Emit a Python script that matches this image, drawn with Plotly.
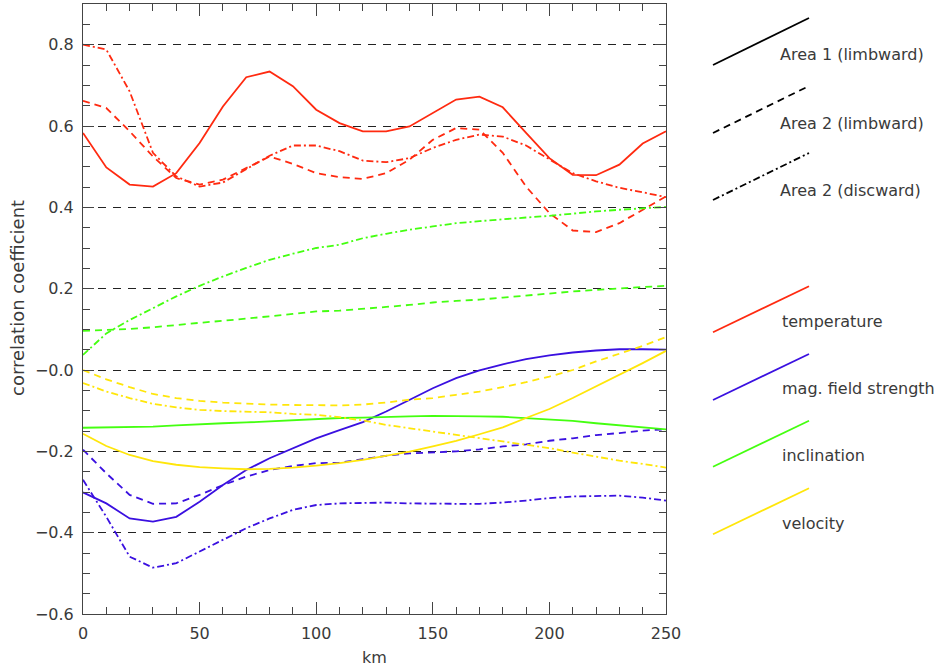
import plotly.graph_objects as go

# ---------------- data ----------------
km = list(range(0, 251, 10))

temp_a1 = [0.583, 0.498, 0.456, 0.451, 0.484, 0.558, 0.648, 0.720, 0.734, 0.698, 0.640, 0.607, 0.587,
           0.587, 0.599, 0.632, 0.665, 0.672, 0.646, 0.583, 0.521, 0.480, 0.479, 0.505, 0.557, 0.587]
temp_a2l = [0.662, 0.644, 0.587, 0.525, 0.472, 0.456, 0.468, 0.497, 0.525, 0.507, 0.484, 0.474, 0.470,
            0.484, 0.517, 0.566, 0.595, 0.591, 0.534, 0.451, 0.386, 0.343, 0.339, 0.361, 0.394, 0.427]
temp_a2d = [0.800, 0.788, 0.685, 0.534, 0.476, 0.451, 0.461, 0.493, 0.527, 0.552, 0.552, 0.538, 0.515,
            0.511, 0.521, 0.546, 0.566, 0.579, 0.574, 0.552, 0.517, 0.484, 0.464, 0.448, 0.437, 0.425]

mag_a1 = [-0.301, -0.328, -0.365, -0.373, -0.361, -0.324, -0.283, -0.246, -0.217, -0.192, -0.168, -0.148, -0.128,
          -0.102, -0.073, -0.045, -0.020, -0.001, 0.014, 0.027, 0.036, 0.043, 0.048, 0.051, 0.051, 0.050]
mag_a2l = [-0.196, -0.254, -0.307, -0.329, -0.328, -0.307, -0.283, -0.262, -0.246, -0.236, -0.229, -0.228, -0.219,
           -0.211, -0.205, -0.203, -0.200, -0.195, -0.188, -0.183, -0.174, -0.168, -0.160, -0.155, -0.149, -0.146]
mag_a2d = [-0.270, -0.361, -0.459, -0.486, -0.475, -0.447, -0.418, -0.389, -0.365, -0.344, -0.332, -0.328, -0.327,
           -0.326, -0.328, -0.329, -0.329, -0.329, -0.326, -0.321, -0.315, -0.311, -0.310, -0.309, -0.314, -0.321]

incl_a1 = [-0.142, -0.141, -0.140, -0.139, -0.136, -0.133, -0.131, -0.129, -0.126, -0.124, -0.121, -0.118, -0.117,
           -0.115, -0.114, -0.113, -0.113, -0.114, -0.115, -0.118, -0.121, -0.125, -0.131, -0.136, -0.141, -0.146]
incl_a2l = [0.096, 0.098, 0.101, 0.105, 0.111, 0.116, 0.121, 0.126, 0.132, 0.138, 0.144, 0.146, 0.150,
            0.155, 0.160, 0.166, 0.170, 0.173, 0.178, 0.183, 0.189, 0.193, 0.197, 0.201, 0.204, 0.207]
incl_a2d = [0.037, 0.090, 0.123, 0.152, 0.181, 0.207, 0.230, 0.251, 0.271, 0.286, 0.300, 0.308, 0.324,
            0.335, 0.345, 0.353, 0.361, 0.366, 0.371, 0.375, 0.379, 0.385, 0.390, 0.394, 0.398, 0.401]

vel_a1 = [-0.157, -0.187, -0.209, -0.224, -0.233, -0.239, -0.242, -0.244, -0.243, -0.240, -0.235, -0.229, -0.221,
          -0.211, -0.201, -0.188, -0.174, -0.158, -0.141, -0.118, -0.096, -0.069, -0.041, -0.012, 0.017, 0.047]
vel_a2l = [0.000, -0.023, -0.042, -0.059, -0.069, -0.076, -0.080, -0.083, -0.085, -0.086, -0.087, -0.087, -0.085,
           -0.080, -0.073, -0.069, -0.061, -0.053, -0.042, -0.030, -0.016, 0.000, 0.021, 0.040, 0.059, 0.081]
vel_a2d = [-0.032, -0.053, -0.069, -0.083, -0.092, -0.098, -0.101, -0.102, -0.104, -0.108, -0.110, -0.116, -0.124,
           -0.135, -0.143, -0.151, -0.160, -0.168, -0.176, -0.184, -0.192, -0.203, -0.213, -0.223, -0.231, -0.240]

y_tickvals = [0.8, 0.6, 0.4, 0.2, 0.0, -0.2, -0.4, -0.6]
y_ticktext = ["0.8", "0.6", "0.4", "0.2", "\u22120.0", "\u22120.2", "\u22120.4", "\u22120.6"]
x_tickvals = [0, 50, 100, 150, 200, 250]

area_labels = ["Area 1 (limbward)", "Area 2 (limbward)", "Area 2 (discward)"]
quantity_labels = ["temperature", "mag. field strength", "inclination", "velocity"]

# ---------------- styles ----------------
RED, BLUE, GREEN, YELLOW = "#ff2a10", "#3a10e0", "#44ff10", "#ffe60a"
DASH = "7px,5px"
DASHDOT = "7px,3px,2px,3px"
styles = ["solid", DASH, DASHDOT]
TXT = "#3a3a3a"
FONT = "DejaVu Sans"

W, H = 948, 668
ML, MR, MT, MB = 83, 282, 4, 54          # plot box margins (pixels)
PW, PH = W - ML - MR, H - MT - MB


def PX(x):
    # figure pixel -> paper fraction (paper = plot area)
    return (x - ML) / PW


def PY(y):
    return (H - MB - y) / PH


series = [
    (temp_a1, RED, 0), (temp_a2l, RED, 1), (temp_a2d, RED, 2),
    (mag_a1, BLUE, 0), (mag_a2l, BLUE, 1), (mag_a2d, BLUE, 2),
    (incl_a1, GREEN, 0), (incl_a2l, GREEN, 1), (incl_a2d, GREEN, 2),
    (vel_a1, YELLOW, 0), (vel_a2l, YELLOW, 1), (vel_a2d, YELLOW, 2),
]

fig = go.Figure()
for ys, col, st in series:
    fig.add_trace(go.Scatter(x=km, y=ys, mode="lines",
                             line=dict(color=col, width=1.8, dash=styles[st]),
                             showlegend=False, hoverinfo="skip"))

# ---------------- legend (drawn glyphs) ----------------
shapes = []
annotations = []
area_rows = [65, 133, 200]
for i, lab in enumerate(area_labels):
    yb = area_rows[i]
    shapes.append(dict(type="line", xref="paper", yref="paper",
                       x0=PX(713), y0=PY(yb), x1=PX(809), y1=PY(yb - 47),
                       line=dict(color="black", width=1.8, dash=styles[i])))
    annotations.append(dict(x=PX(778), y=PY(yb - 10), xref="paper", yref="paper",
                            text=lab, showarrow=False, xanchor="left", yanchor="middle",
                            font=dict(family=FONT, size=16, color=TXT)))

q_cols = [RED, BLUE, GREEN, YELLOW]
q_rows = [332.3, 400, 466.7, 534.3]
for i, lab in enumerate(quantity_labels):
    yb = q_rows[i]
    shapes.append(dict(type="line", xref="paper", yref="paper",
                       x0=PX(713), y0=PY(yb), x1=PX(809), y1=PY(yb - 46),
                       line=dict(color=q_cols[i], width=1.8)))
    annotations.append(dict(x=PX(780), y=PY(yb - 11), xref="paper", yref="paper",
                            text=lab, showarrow=False, xanchor="left", yanchor="middle",
                            font=dict(family=FONT, size=16, color=TXT)))

# axis titles
annotations.append(dict(x=PX(374), y=PY(657), xref="paper", yref="paper", text="km",
                        showarrow=False, xanchor="center", yanchor="middle",
                        font=dict(family=FONT, size=16, color=TXT)))
annotations.append(dict(x=PX(17), y=PY(298), xref="paper", yref="paper", text="correlation coefficient",
                        showarrow=False, xanchor="center", yanchor="middle", textangle=-90,
                        font=dict(family=FONT, size=18, color=TXT)))

fig.update_layout(
    width=W, height=H, autosize=False,
    margin=dict(l=ML, r=MR, t=MT, b=MB, pad=0, autoexpand=False),
    paper_bgcolor="white", plot_bgcolor="white",
    showlegend=False,
    shapes=shapes, annotations=annotations,
    xaxis=dict(range=[0, 250], automargin=False,
               tickmode="array", tickvals=x_tickvals,
               ticks="inside", ticklen=12, tickwidth=1, tickcolor="#444",
               minor=dict(dtick=10, tick0=0, ticks="inside", ticklen=7, tickcolor="#444", showgrid=False),
               showline=True, linecolor="#444", linewidth=1, mirror="allticks",
               showgrid=False, zeroline=False,
               tickfont=dict(family=FONT, size=16, color=TXT), ticklabelstandoff=5),
    yaxis=dict(range=[-0.6, 0.9], automargin=False,
               tickmode="array", tickvals=y_tickvals, ticktext=y_ticktext,
               ticks="inside", ticklen=11, tickwidth=1, tickcolor="#444",
               minor=dict(dtick=0.05, tick0=0, ticks="inside", ticklen=7, tickcolor="#444", showgrid=False),
               showline=True, linecolor="#444", linewidth=1, mirror="allticks",
               showgrid=True, gridcolor="#222", gridwidth=1, griddash="8px,7px",
               zeroline=False,
               tickfont=dict(family=FONT, size=16, color=TXT), ticklabelstandoff=5),
)

fig.write_html("out.html", config={"responsive": False})
